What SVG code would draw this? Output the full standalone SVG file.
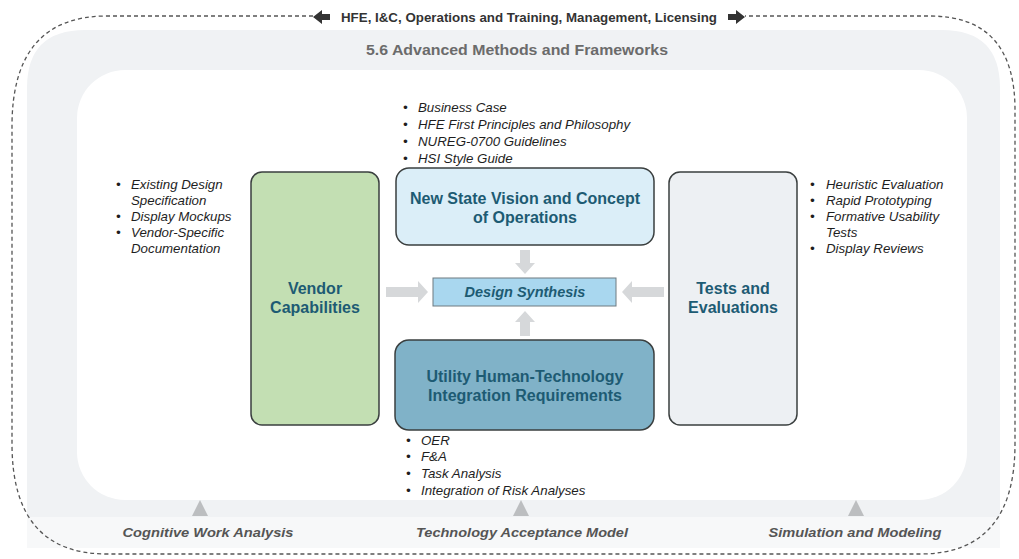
<svg xmlns="http://www.w3.org/2000/svg" width="1019" height="559" viewBox="0 0 1019 559">
<style>
.title{font-family:"Liberation Sans",Arial,sans-serif;font-weight:bold;font-size:16px;fill:#1d5b73;text-anchor:middle}
.bul{font-family:"Liberation Sans",Arial,sans-serif;font-style:italic;font-size:13.3px;fill:#1e1e1e}
.foot{font-family:"Liberation Sans",Arial,sans-serif;font-style:italic;font-weight:bold;font-size:13px;fill:#555;text-anchor:middle}
.node{stroke:#3a3f3f;stroke-width:1.5}
.garrow{fill:#d6d8da}
.tri{fill:#bcbec0}
</style>
<rect width="1019" height="559" fill="#ffffff"/>
<g id="frame">
<path d="M 27,88 Q 27,30 85,30 L 942,30 Q 1000,30 1000,88 L 1000,517 L 27,517 Z" fill="#f0f2f4"/>
<rect x="27" y="517" width="973" height="31" fill="#f7f8f9"/>
<rect x="77" y="70" width="890" height="430" rx="48" fill="#ffffff"/>
<path d="M 313,16 L 107,16 Q 12,16 12,126 L 12,444 Q 12,554 107,554 L 920,554 Q 1015,554 1015,444 L 1015,110 Q 1015,16 930,16 L 745,16" fill="none" stroke="#555" stroke-width="1.3" stroke-dasharray="4 3"/>
<path d="M 313,17 L 322,10 L 322,14 L 330,14 L 330,20 L 322,20 L 322,24 Z" fill="#333"/>
<path d="M 745,17 L 736,10 L 736,14 L 728,14 L 728,20 L 736,20 L 736,24 Z" fill="#333"/>
<text x="529" y="21.5" font-family="'Liberation Sans',Arial,sans-serif" font-weight="bold" font-size="13" fill="#333" text-anchor="middle" textLength="376" lengthAdjust="spacingAndGlyphs">HFE, I&amp;C, Operations and Training, Management, Licensing</text>
<text x="517" y="55" font-family="'Liberation Sans',Arial,sans-serif" font-weight="bold" font-size="15" fill="#6b6b6b" text-anchor="middle" textLength="302" lengthAdjust="spacingAndGlyphs">5.6 Advanced Methods and Frameworks</text>
</g>
<g id="connectors">
<path class="garrow" d="M 386,287 L 418,287 L 418,281 L 428,292 L 418,303 L 418,297 L 386,297 Z"/>
<path class="garrow" d="M 664,287 L 632,287 L 632,281 L 622,292 L 632,303 L 632,297 L 664,297 Z"/>
<path class="garrow" d="M 520,250 L 530,250 L 530,263 L 535,263 L 525,274 L 515,263 L 520,263 Z"/>
<path class="garrow" d="M 520,336 L 530,336 L 530,322 L 535,322 L 525,311 L 515,322 L 520,322 Z"/>
</g>
<g id="vendor">
<rect class="node" x="251" y="172" width="128" height="253" rx="11" fill="#c3dfb3"/>
<text class="title" x="315" y="294">Vendor</text>
<text class="title" x="315" y="313">Capabilities</text>
</g>
<g id="vendor-notes">
<text class="bul" x="116" y="189">•</text><text class="bul" x="131" y="189">Existing Design</text>
<text class="bul" x="131" y="205">Specification</text>
<text class="bul" x="116" y="221">•</text><text class="bul" x="131" y="221">Display Mockups</text>
<text class="bul" x="116" y="237">•</text><text class="bul" x="131" y="237">Vendor-Specific</text>
<text class="bul" x="131" y="253">Documentation</text>
</g>
<g id="vision">
<rect class="node" x="396" y="168" width="258" height="77" rx="13" fill="#dbeef8"/>
<text class="title" x="525" y="204">New State Vision and Concept</text>
<text class="title" x="525" y="223">of Operations</text>
</g>
<g id="vision-notes">
<text class="bul" x="403" y="112">•</text><text class="bul" x="418" y="112">Business Case</text>
<text class="bul" x="403" y="129">•</text><text class="bul" x="418" y="129">HFE First Principles and Philosophy</text>
<text class="bul" x="403" y="146">•</text><text class="bul" x="418" y="146">NUREG-0700 Guidelines</text>
<text class="bul" x="403" y="163">•</text><text class="bul" x="418" y="163">HSI Style Guide</text>
</g>
<g id="tests">
<rect class="node" x="669" y="172" width="128" height="253" rx="11" fill="#edf0f3"/>
<text class="title" x="733" y="294">Tests and</text>
<text class="title" x="733" y="313">Evaluations</text>
</g>
<g id="tests-notes">
<text class="bul" x="810" y="189">•</text><text class="bul" x="826" y="189">Heuristic Evaluation</text>
<text class="bul" x="810" y="205">•</text><text class="bul" x="826" y="205">Rapid Prototyping</text>
<text class="bul" x="810" y="221">•</text><text class="bul" x="826" y="221">Formative Usability</text>
<text class="bul" x="826" y="237">Tests</text>
<text class="bul" x="810" y="253">•</text><text class="bul" x="826" y="253">Display Reviews</text>
</g>
<g id="synthesis">
<rect x="433" y="278" width="183" height="28" fill="#a9d7ef" stroke="#6e7a80" stroke-width="1"/>
<text x="525" y="297" font-family="'Liberation Sans',Arial,sans-serif" font-style="italic" font-weight="bold" font-size="14.5" fill="#1d5b73" text-anchor="middle">Design Synthesis</text>
</g>
<g id="utility">
<rect class="node" x="395" y="340" width="259" height="90" rx="14" fill="#80b2c8"/>
<text class="title" x="525" y="382">Utility Human-Technology</text>
<text class="title" x="525" y="401">Integration Requirements</text>
</g>
<g id="utility-notes">
<text class="bul" x="406" y="445">•</text><text class="bul" x="421" y="445">OER</text>
<text class="bul" x="406" y="461">•</text><text class="bul" x="421" y="461">F&amp;A</text>
<text class="bul" x="406" y="478">•</text><text class="bul" x="421" y="478">Task Analysis</text>
<text class="bul" x="406" y="495">•</text><text class="bul" x="421" y="495">Integration of Risk Analyses</text>
</g>
<g id="cwa">
<path class="tri" d="M 200,500 L 208,516 L 192,516 Z"/>
<text class="foot" x="208" y="537" textLength="171" lengthAdjust="spacingAndGlyphs">Cognitive Work Analysis</text>
</g>
<g id="tam">
<path class="tri" d="M 521,500 L 529,516 L 513,516 Z"/>
<text class="foot" x="522" y="537" textLength="212" lengthAdjust="spacingAndGlyphs">Technology Acceptance Model</text>
</g>
<g id="sim">
<path class="tri" d="M 856,500 L 864,516 L 848,516 Z"/>
<text class="foot" x="855" y="537" textLength="173" lengthAdjust="spacingAndGlyphs">Simulation and Modeling</text>
</g>
</svg>
